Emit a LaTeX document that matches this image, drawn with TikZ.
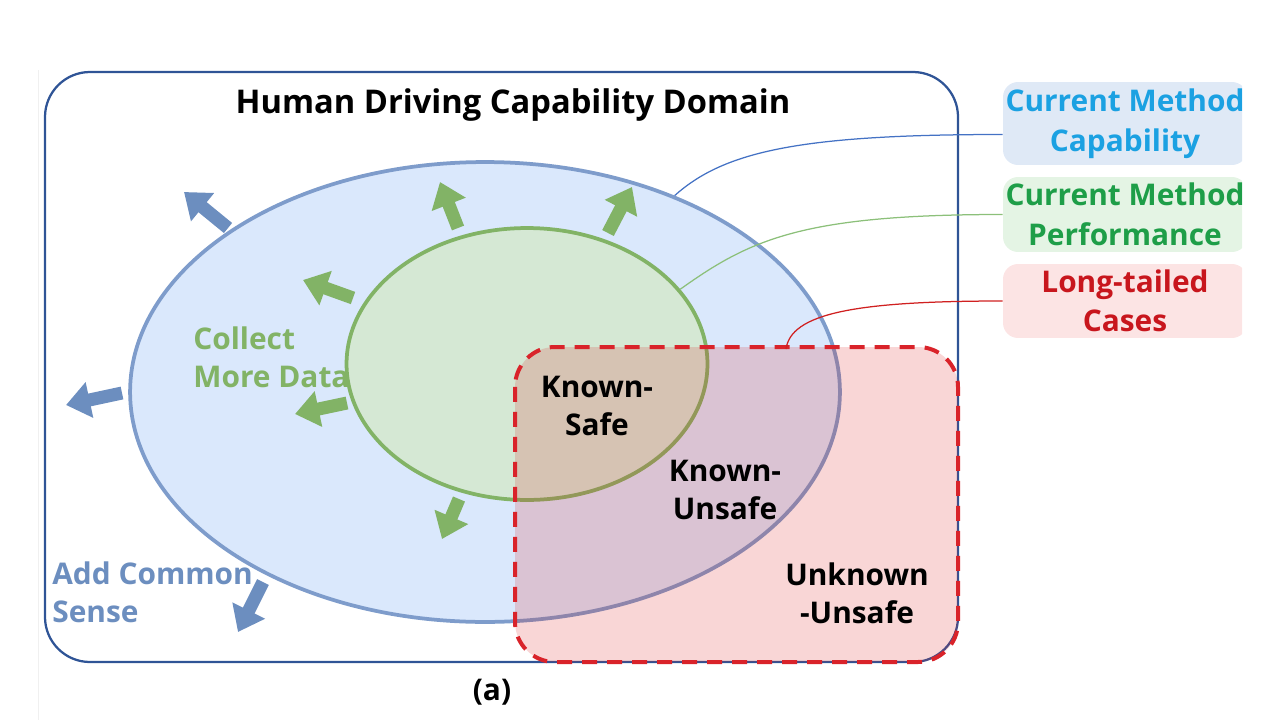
\documentclass[tikz,border=0pt]{standalone}
\usepackage{fontspec}
\setmainfont{Open Sans}[BoldFont={Open Sans Bold}]
\usetikzlibrary{arrows.meta,shapes.geometric}

\definecolor{frameblue}{HTML}{2F5496}
\definecolor{capfill}{HTML}{DAE8FC}
\definecolor{capdraw}{HTML}{7E9CCB}
\definecolor{perffill}{HTML}{D5E8D4}
\definecolor{perfdraw}{HTML}{82B366}
\definecolor{tailfill}{HTML}{DC1E1E}
\definecolor{taildraw}{HTML}{D9232A}
\definecolor{growgreen}{HTML}{82B366}
\definecolor{growblue}{HTML}{6C8EBF}
\definecolor{legcapfill}{HTML}{DFE9F6}
\definecolor{legcaptext}{HTML}{1BA1E2}
\definecolor{legperffill}{HTML}{E4F4E4}
\definecolor{legperftext}{HTML}{1E9E48}
\definecolor{legtailfill}{HTML}{FCE4E4}
\definecolor{legtailtext}{HTML}{C8161D}
\definecolor{pinblue}{HTML}{4472C4}
\definecolor{pingreen}{HTML}{8CC07A}
\definecolor{pinred}{HTML}{D02020}

\tikzset{
  region text/.style={font=\bfseries\fontsize{17}{21.5}\selectfont, align=center, inner sep=0pt},
  grow arrow/.style={line width=0.26cm, -{Triangle[width=0.70cm,length=0.48cm]}},
  legend box/.style={region text, font=\bfseries\fontsize{17}{22.5}\selectfont, rounded corners=0.3cm, minimum width=4.88cm, inner sep=0pt},
  pin line/.style={line width=0.025cm}
}

\begin{document}
\begin{tikzpicture}[x=0.02cm,y=-0.02cm]
  \useasboundingbox (0,0) rectangle (1280,720);

  % Drawing faint page edge
  \draw [line width=0.02cm, black!6] (38,70) -- (38,720);

  % Drawing human domain frame
  \draw [line width=0.045cm, frameblue, rounded corners=0.9cm] (45,72) rectangle (958,662);
  \node [region text, font=\bfseries\fontsize{18.6}{22}\selectfont] (domain) at (513,105) {Human Driving Capability Domain};

  % Drawing capability ellipse
  \node [ellipse, draw=capdraw, fill=capfill, line width=0.075cm, inner sep=0pt,
         minimum width=14.2cm, minimum height=9.2cm] (cap) at (485,392) {};

  % Drawing performance ellipse
  \node [ellipse, draw=perfdraw, fill=perffill, line width=0.075cm, inner sep=0pt,
         minimum width=7.22cm, minimum height=5.44cm] (perf) at (527,364) {};

  % Drawing long-tailed box
  \node [rectangle, rounded corners=0.8cm, fill=tailfill, fill opacity=0.18,
         minimum width=8.86cm, minimum height=6.3cm, inner sep=0pt] (tail) at (736.5,504.5) {};
  \draw [taildraw, line width=0.08cm, dash pattern=on 0.3cm off 0.2cm, rounded corners=0.8cm]
        (515,347) rectangle (958,662);

  % Drawing green growth arrows
  \draw [grow arrow, growgreen] (458,228) -- (440,182);
  \draw [grow arrow, growgreen] (608,233) -- (632,187);
  \draw [grow arrow, growgreen] (353,298) -- (303,280);
  \draw [grow arrow, growgreen] (347,403) -- (295,414);
  \draw [grow arrow, growgreen] (459,499) -- (442,539);

  % Drawing blue growth arrows
  \draw [grow arrow, growblue] (228,228) -- (184,192);
  \draw [grow arrow, growblue] (122,393) -- (66,405);
  \draw [grow arrow, growblue] (263,582) -- (238,632);

  % Marking region labels
  \node [region text, growgreen, align=left, anchor=west] (collect) at (193,357) {Collect\\More Data};
  \node [region text, growblue, align=left, anchor=west] (common) at (52,592) {Add Common\\Sense};
  \node [region text] (ksafe) at (597,406) {Known-\\Safe};
  \node [region text] (kunsafe) at (725,490) {Known-\\Unsafe};
  \node [region text] (uunsafe) at (857,593) {Unknown\\-Unsafe};
  \node [region text] (sub) at (492,692) {(a)};

  % Drawing legend boxes
  \begin{scope}
    \clip (990,60) rectangle (1242,360);
    \node [legend box, fill=legcapfill, text=legcaptext, minimum height=1.66cm] (legcap) at (1125,123.5) {Current Method\\Capability};
    \node [legend box, fill=legperffill, text=legperftext, minimum height=1.5cm] (legperf) at (1125,214.5) {Current Method\\Performance};
    \node [legend box, fill=legtailfill, text=legtailtext, minimum height=1.48cm] (legtail) at (1125,301) {Long-tailed\\Cases};
  \end{scope}

  % Drawing legend pins
  \coordinate (tailpin) at (786,349);
  \draw [pin line, pinblue] (cap.46) .. controls +(50,-45) and +(-200,0) .. ([yshift=-0.22cm]legcap.west);
  \draw [pin line, pingreen] (perf.26) .. controls +(70,-50) and +(-200,0) .. (legperf.west);
  \draw [pin line, pinred] (tailpin) .. controls +(5,-35) and +(-150,0) .. (legtail.west);
\end{tikzpicture}
\end{document}
